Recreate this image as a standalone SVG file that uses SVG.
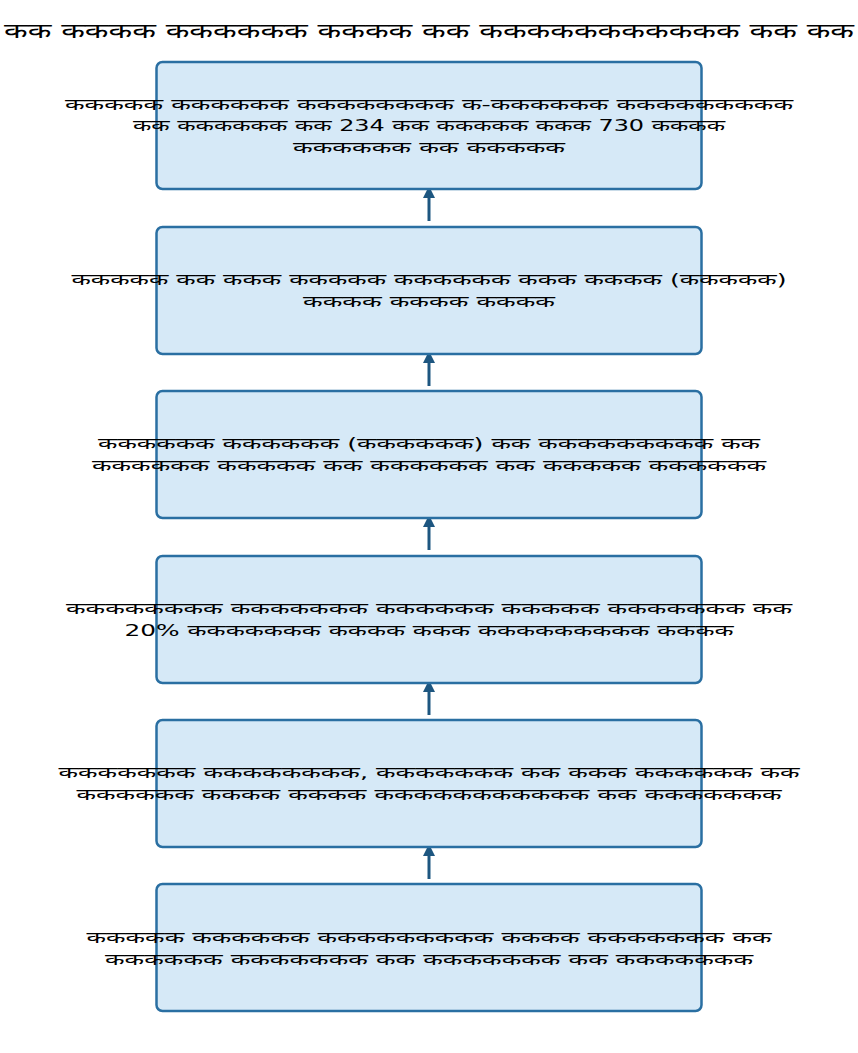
<svg xmlns="http://www.w3.org/2000/svg" width="858" height="1053" viewBox="0 0 858 1053">
<style>
.box{fill:#d6e9f7;stroke:#2a6fa2;stroke-width:2.5}
.t{font-family:"DejaVu Sans","Noto Sans",sans-serif;font-size:16px;fill:#000;text-anchor:middle;dominant-baseline:central}
.title{font-family:"DejaVu Sans","Noto Sans",sans-serif;font-size:20px;fill:#000;text-anchor:middle;dominant-baseline:central}
.arr{stroke:#1d5680;stroke-width:3;fill:none}
</style>
<defs>
<marker id="ah" viewBox="0 0 10 10" refX="0" refY="5" markerWidth="12" markerHeight="12" markerUnits="userSpaceOnUse" orient="auto">
<path d="M0,0 L10,5 L0,10 z" fill="#1d5680"/>
</marker>
</defs>
<rect width="858" height="1053" fill="#ffffff"/>
<text id="title" class="title" x="429" y="31" textLength="850" lengthAdjust="spacingAndGlyphs">कक कककक कककककक कककक कक ककककककककककक कक कक</text>
<g id="connectors">
<line class="arr" x1="429" y1="221" x2="429" y2="198" marker-end="url(#ah)"/>
<line class="arr" x1="429" y1="386" x2="429" y2="363" marker-end="url(#ah)"/>
<line class="arr" x1="429" y1="550" x2="429" y2="527" marker-end="url(#ah)"/>
<line class="arr" x1="429" y1="715" x2="429" y2="692" marker-end="url(#ah)"/>
<line class="arr" x1="429" y1="879" x2="429" y2="856" marker-end="url(#ah)"/>
</g>
<g id="node1">
<rect class="box" x="156.5" y="62" width="545" height="127" rx="6"/>
<text class="t" x="429" y="104" textLength="728" lengthAdjust="spacingAndGlyphs">ककककक कककककक कककककककक क-कककककक ककककककककक</text>
<text class="t" x="429" y="125.5" textLength="592" lengthAdjust="spacingAndGlyphs">कक कककककक कक 234 कक ककककक ककक 730 कककक</text>
<text class="t" x="429" y="147" textLength="272" lengthAdjust="spacingAndGlyphs">कककककक कक ककककक</text>
</g>
<g id="node2">
<rect class="box" x="156.5" y="227" width="545" height="127" rx="6"/>
<text class="t" x="429" y="279.5" textLength="715" lengthAdjust="spacingAndGlyphs">ककककक कक ककक ककककक कककककक ककक कककक (ककककक)</text>
<text class="t" x="429" y="301" textLength="252" lengthAdjust="spacingAndGlyphs">कककक कककक कककक</text>
</g>
<g id="node3">
<rect class="box" x="156.5" y="391" width="545" height="127" rx="6"/>
<text class="t" x="429" y="443.5" textLength="662" lengthAdjust="spacingAndGlyphs">कककककक कककककक (कककककक) कक ककककककककक कक</text>
<text class="t" x="429" y="465.5" textLength="674" lengthAdjust="spacingAndGlyphs">कककककक ककककक कक कककककक कक ककककक कककककक</text>
</g>
<g id="node4">
<rect class="box" x="156.5" y="556" width="545" height="127" rx="6"/>
<text class="t" x="429" y="608" textLength="726" lengthAdjust="spacingAndGlyphs">कककककककक ककककककक कककककक ककककक ककककककक कक</text>
<text class="t" x="429" y="630" textLength="609" lengthAdjust="spacingAndGlyphs">20% ककककककक कककक ककक ककककककककक कककक</text>
</g>
<g id="node5">
<rect class="box" x="156.5" y="720" width="545" height="127" rx="6"/>
<text class="t" x="429" y="772.5" textLength="741" lengthAdjust="spacingAndGlyphs">ककककककक कककककककक, ककककककक कक ककक कककककक कक</text>
<text class="t" x="429" y="794.5" textLength="705" lengthAdjust="spacingAndGlyphs">कककककक कककक कककक ककककककककककक कक ककककककक</text>
</g>
<g id="node6">
<rect class="box" x="156.5" y="884" width="545" height="127" rx="6"/>
<text class="t" x="429" y="937" textLength="685" lengthAdjust="spacingAndGlyphs">ककककक कककककक ककककककककक कककक ककककककक कक</text>
<text class="t" x="429" y="959" textLength="648" lengthAdjust="spacingAndGlyphs">कककककक ककककककक कक ककककककक कक ककककककक</text>
</g>
</svg>
